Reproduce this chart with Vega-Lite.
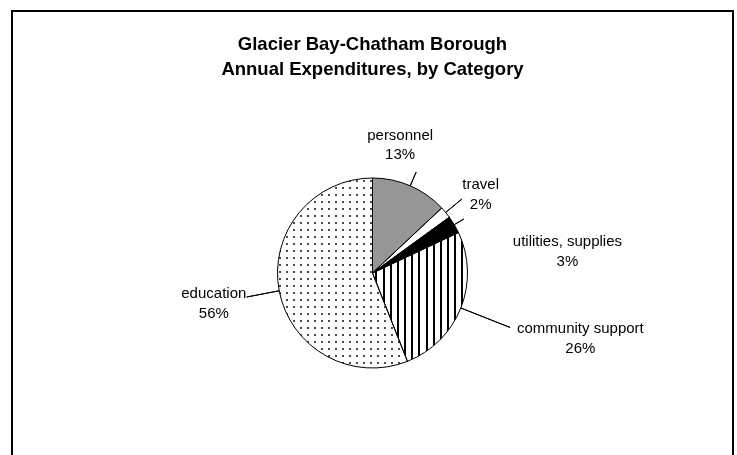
{
  "$schema": "https://vega.github.io/schema/vega-lite/v6.json",
  "width": 721,
  "height": 524,
  "autosize": {"type": "none"},
  "padding": {"left": 12, "top": 11, "right": 4, "bottom": 0},
  "background": "white",
  "view": {"stroke": "#000000", "strokeWidth": 2, "fill": "white"},
  "config": {
    "view": {"stroke": "#000000", "strokeWidth": 2},
    "font": "Liberation Sans"
  },
  "title": {
    "text": ["Glacier Bay-Chatham Borough", "Annual Expenditures, by Category"],
    "font": "Liberation Sans",
    "fontSize": 18.5,
    "fontWeight": "bold",
    "color": "#000000",
    "anchor": "middle",
    "frame": "group",
    "baseline": "bottom",
    "lineHeight": 25,
    "offset": -86
  },
  "data": {
    "values": [
      {"cat": "personnel", "share": 0.13, "idx": 1},
      {"cat": "travel", "share": 0.02, "idx": 2},
      {"cat": "utilities, supplies", "share": 0.03, "idx": 3},
      {"cat": "community support", "share": 0.26, "idx": 4},
      {"cat": "education", "share": 0.56, "idx": 5}
    ]
  },
  "transform": [
    {"stack": "share", "groupby": [], "sort": [{"field": "idx", "order": "ascending"}], "as": ["t0", "t1"]}
  ],
  "layer": [
    {
      "transform": [{"filter": "datum.idx <= 3"}],
      "mark": {"type": "arc", "outerRadius": 95},
      "encoding": {
        "theta": {"field": "t0", "type": "quantitative", "scale": {"domain": [0, 1]}},
        "theta2": {"field": "t1"},
        "fill": {"field": "cat", "type": "nominal", "scale": {"domain": ["personnel", "travel", "utilities, supplies"], "range": ["#969696", "#ffffff", "#000000"]}, "legend": null}
      }
    },
    {
      "transform": [{"filter": "datum.idx == 4"}],
      "mark": {"type": "arc", "outerRadius": 95, "fill": {"gradient": "linear", "x1": 0, "y1": 0, "x2": 1, "y2": 0, "stops": [
        {"offset": 0, "color": "#ffffff"},
        {"offset": 0.0315, "color": "#ffffff"}, {"offset": 0.0315, "color": "#000000"}, {"offset": 0.0525, "color": "#000000"}, {"offset": 0.0525, "color": "#ffffff"},
        {"offset": 0.1068, "color": "#ffffff"}, {"offset": 0.1068, "color": "#000000"}, {"offset": 0.1278, "color": "#000000"}, {"offset": 0.1278, "color": "#ffffff"},
        {"offset": 0.1821, "color": "#ffffff"}, {"offset": 0.1821, "color": "#000000"}, {"offset": 0.2031, "color": "#000000"}, {"offset": 0.2031, "color": "#ffffff"},
        {"offset": 0.2574, "color": "#ffffff"}, {"offset": 0.2574, "color": "#000000"}, {"offset": 0.2784, "color": "#000000"}, {"offset": 0.2784, "color": "#ffffff"},
        {"offset": 0.3327, "color": "#ffffff"}, {"offset": 0.3327, "color": "#000000"}, {"offset": 0.3537, "color": "#000000"}, {"offset": 0.3537, "color": "#ffffff"},
        {"offset": 0.4080, "color": "#ffffff"}, {"offset": 0.4080, "color": "#000000"}, {"offset": 0.4290, "color": "#000000"}, {"offset": 0.4290, "color": "#ffffff"},
        {"offset": 0.4833, "color": "#ffffff"}, {"offset": 0.4833, "color": "#000000"}, {"offset": 0.5043, "color": "#000000"}, {"offset": 0.5043, "color": "#ffffff"},
        {"offset": 0.5586, "color": "#ffffff"}, {"offset": 0.5586, "color": "#000000"}, {"offset": 0.5796, "color": "#000000"}, {"offset": 0.5796, "color": "#ffffff"},
        {"offset": 0.6339, "color": "#ffffff"}, {"offset": 0.6339, "color": "#000000"}, {"offset": 0.6549, "color": "#000000"}, {"offset": 0.6549, "color": "#ffffff"},
        {"offset": 0.7092, "color": "#ffffff"}, {"offset": 0.7092, "color": "#000000"}, {"offset": 0.7302, "color": "#000000"}, {"offset": 0.7302, "color": "#ffffff"},
        {"offset": 0.7845, "color": "#ffffff"}, {"offset": 0.7845, "color": "#000000"}, {"offset": 0.8055, "color": "#000000"}, {"offset": 0.8055, "color": "#ffffff"},
        {"offset": 0.8598, "color": "#ffffff"}, {"offset": 0.8598, "color": "#000000"}, {"offset": 0.8808, "color": "#000000"}, {"offset": 0.8808, "color": "#ffffff"},
        {"offset": 0.9351, "color": "#ffffff"}, {"offset": 0.9351, "color": "#000000"}, {"offset": 0.9561, "color": "#000000"}, {"offset": 0.9561, "color": "#ffffff"},
        {"offset": 1, "color": "#ffffff"}
      ]}},
      "encoding": {
        "theta": {"field": "t0", "type": "quantitative", "scale": {"domain": [0, 1]}},
        "theta2": {"field": "t1"}
      }
    },
    {
      "transform": [{"filter": "datum.idx == 5"}],
      "mark": {"type": "arc", "outerRadius": 95, "fill": {"gradient": "linear", "x1": 0, "y1": 0, "x2": 1, "y2": 0, "stops": [
        {"offset": 0, "color": "#ffffff"},
        {"offset": 0.01154, "color": "#ffffff"}, {"offset": 0.01154, "color": "#4a4a4a"}, {"offset": 0.02692, "color": "#4a4a4a"}, {"offset": 0.02692, "color": "#ffffff"},
        {"offset": 0.06538, "color": "#ffffff"}, {"offset": 0.06538, "color": "#4a4a4a"}, {"offset": 0.08077, "color": "#4a4a4a"}, {"offset": 0.08077, "color": "#ffffff"},
        {"offset": 0.11923, "color": "#ffffff"}, {"offset": 0.11923, "color": "#4a4a4a"}, {"offset": 0.13462, "color": "#4a4a4a"}, {"offset": 0.13462, "color": "#ffffff"},
        {"offset": 0.17308, "color": "#ffffff"}, {"offset": 0.17308, "color": "#4a4a4a"}, {"offset": 0.18846, "color": "#4a4a4a"}, {"offset": 0.18846, "color": "#ffffff"},
        {"offset": 0.22692, "color": "#ffffff"}, {"offset": 0.22692, "color": "#4a4a4a"}, {"offset": 0.24231, "color": "#4a4a4a"}, {"offset": 0.24231, "color": "#ffffff"},
        {"offset": 0.28077, "color": "#ffffff"}, {"offset": 0.28077, "color": "#4a4a4a"}, {"offset": 0.29615, "color": "#4a4a4a"}, {"offset": 0.29615, "color": "#ffffff"},
        {"offset": 0.33462, "color": "#ffffff"}, {"offset": 0.33462, "color": "#4a4a4a"}, {"offset": 0.35, "color": "#4a4a4a"}, {"offset": 0.35, "color": "#ffffff"},
        {"offset": 0.38846, "color": "#ffffff"}, {"offset": 0.38846, "color": "#4a4a4a"}, {"offset": 0.40385, "color": "#4a4a4a"}, {"offset": 0.40385, "color": "#ffffff"},
        {"offset": 0.44231, "color": "#ffffff"}, {"offset": 0.44231, "color": "#4a4a4a"}, {"offset": 0.45769, "color": "#4a4a4a"}, {"offset": 0.45769, "color": "#ffffff"},
        {"offset": 0.49615, "color": "#ffffff"}, {"offset": 0.49615, "color": "#4a4a4a"}, {"offset": 0.51154, "color": "#4a4a4a"}, {"offset": 0.51154, "color": "#ffffff"},
        {"offset": 0.55, "color": "#ffffff"}, {"offset": 0.55, "color": "#4a4a4a"}, {"offset": 0.56538, "color": "#4a4a4a"}, {"offset": 0.56538, "color": "#ffffff"},
        {"offset": 0.60385, "color": "#ffffff"}, {"offset": 0.60385, "color": "#4a4a4a"}, {"offset": 0.61923, "color": "#4a4a4a"}, {"offset": 0.61923, "color": "#ffffff"},
        {"offset": 0.65769, "color": "#ffffff"}, {"offset": 0.65769, "color": "#4a4a4a"}, {"offset": 0.67308, "color": "#4a4a4a"}, {"offset": 0.67308, "color": "#ffffff"},
        {"offset": 0.71154, "color": "#ffffff"}, {"offset": 0.71154, "color": "#4a4a4a"}, {"offset": 0.72692, "color": "#4a4a4a"}, {"offset": 0.72692, "color": "#ffffff"},
        {"offset": 0.76538, "color": "#ffffff"}, {"offset": 0.76538, "color": "#4a4a4a"}, {"offset": 0.78077, "color": "#4a4a4a"}, {"offset": 0.78077, "color": "#ffffff"},
        {"offset": 0.81923, "color": "#ffffff"}, {"offset": 0.81923, "color": "#4a4a4a"}, {"offset": 0.83462, "color": "#4a4a4a"}, {"offset": 0.83462, "color": "#ffffff"},
        {"offset": 0.87308, "color": "#ffffff"}, {"offset": 0.87308, "color": "#4a4a4a"}, {"offset": 0.88846, "color": "#4a4a4a"}, {"offset": 0.88846, "color": "#ffffff"},
        {"offset": 0.92692, "color": "#ffffff"}, {"offset": 0.92692, "color": "#4a4a4a"}, {"offset": 0.94231, "color": "#4a4a4a"}, {"offset": 0.94231, "color": "#ffffff"},
        {"offset": 0.98077, "color": "#ffffff"}, {"offset": 0.98077, "color": "#4a4a4a"}, {"offset": 0.99615, "color": "#4a4a4a"}, {"offset": 0.99615, "color": "#ffffff"},
        {"offset": 1, "color": "#ffffff"}
      ]}},
      "encoding": {
        "theta": {"field": "t0", "type": "quantitative", "scale": {"domain": [0, 1]}},
        "theta2": {"field": "t1"}
      }
    },
    {
      "transform": [{"filter": "datum.idx == 5"}],
      "mark": {"type": "arc", "outerRadius": 95, "blend": "lighten", "fill": {"gradient": "linear", "x1": 0, "y1": 0, "x2": 0, "y2": 1, "stops": [
        {"offset": 0, "color": "#ffffff"},
        {"offset": 0.01053, "color": "#ffffff"}, {"offset": 0.01053, "color": "#4a4a4a"}, {"offset": 0.02105, "color": "#4a4a4a"}, {"offset": 0.02105, "color": "#ffffff"},
        {"offset": 0.04737, "color": "#ffffff"}, {"offset": 0.04737, "color": "#4a4a4a"}, {"offset": 0.05789, "color": "#4a4a4a"}, {"offset": 0.05789, "color": "#ffffff"},
        {"offset": 0.08421, "color": "#ffffff"}, {"offset": 0.08421, "color": "#4a4a4a"}, {"offset": 0.09474, "color": "#4a4a4a"}, {"offset": 0.09474, "color": "#ffffff"},
        {"offset": 0.12105, "color": "#ffffff"}, {"offset": 0.12105, "color": "#4a4a4a"}, {"offset": 0.13158, "color": "#4a4a4a"}, {"offset": 0.13158, "color": "#ffffff"},
        {"offset": 0.15789, "color": "#ffffff"}, {"offset": 0.15789, "color": "#4a4a4a"}, {"offset": 0.16842, "color": "#4a4a4a"}, {"offset": 0.16842, "color": "#ffffff"},
        {"offset": 0.19474, "color": "#ffffff"}, {"offset": 0.19474, "color": "#4a4a4a"}, {"offset": 0.20526, "color": "#4a4a4a"}, {"offset": 0.20526, "color": "#ffffff"},
        {"offset": 0.23158, "color": "#ffffff"}, {"offset": 0.23158, "color": "#4a4a4a"}, {"offset": 0.24211, "color": "#4a4a4a"}, {"offset": 0.24211, "color": "#ffffff"},
        {"offset": 0.26842, "color": "#ffffff"}, {"offset": 0.26842, "color": "#4a4a4a"}, {"offset": 0.27895, "color": "#4a4a4a"}, {"offset": 0.27895, "color": "#ffffff"},
        {"offset": 0.30526, "color": "#ffffff"}, {"offset": 0.30526, "color": "#4a4a4a"}, {"offset": 0.31579, "color": "#4a4a4a"}, {"offset": 0.31579, "color": "#ffffff"},
        {"offset": 0.34211, "color": "#ffffff"}, {"offset": 0.34211, "color": "#4a4a4a"}, {"offset": 0.35263, "color": "#4a4a4a"}, {"offset": 0.35263, "color": "#ffffff"},
        {"offset": 0.37895, "color": "#ffffff"}, {"offset": 0.37895, "color": "#4a4a4a"}, {"offset": 0.38947, "color": "#4a4a4a"}, {"offset": 0.38947, "color": "#ffffff"},
        {"offset": 0.41579, "color": "#ffffff"}, {"offset": 0.41579, "color": "#4a4a4a"}, {"offset": 0.42632, "color": "#4a4a4a"}, {"offset": 0.42632, "color": "#ffffff"},
        {"offset": 0.45263, "color": "#ffffff"}, {"offset": 0.45263, "color": "#4a4a4a"}, {"offset": 0.46316, "color": "#4a4a4a"}, {"offset": 0.46316, "color": "#ffffff"},
        {"offset": 0.48947, "color": "#ffffff"}, {"offset": 0.48947, "color": "#4a4a4a"}, {"offset": 0.5, "color": "#4a4a4a"}, {"offset": 0.5, "color": "#ffffff"},
        {"offset": 0.52632, "color": "#ffffff"}, {"offset": 0.52632, "color": "#4a4a4a"}, {"offset": 0.53684, "color": "#4a4a4a"}, {"offset": 0.53684, "color": "#ffffff"},
        {"offset": 0.56316, "color": "#ffffff"}, {"offset": 0.56316, "color": "#4a4a4a"}, {"offset": 0.57368, "color": "#4a4a4a"}, {"offset": 0.57368, "color": "#ffffff"},
        {"offset": 0.6, "color": "#ffffff"}, {"offset": 0.6, "color": "#4a4a4a"}, {"offset": 0.61053, "color": "#4a4a4a"}, {"offset": 0.61053, "color": "#ffffff"},
        {"offset": 0.63684, "color": "#ffffff"}, {"offset": 0.63684, "color": "#4a4a4a"}, {"offset": 0.64737, "color": "#4a4a4a"}, {"offset": 0.64737, "color": "#ffffff"},
        {"offset": 0.67368, "color": "#ffffff"}, {"offset": 0.67368, "color": "#4a4a4a"}, {"offset": 0.68421, "color": "#4a4a4a"}, {"offset": 0.68421, "color": "#ffffff"},
        {"offset": 0.71053, "color": "#ffffff"}, {"offset": 0.71053, "color": "#4a4a4a"}, {"offset": 0.72105, "color": "#4a4a4a"}, {"offset": 0.72105, "color": "#ffffff"},
        {"offset": 0.74737, "color": "#ffffff"}, {"offset": 0.74737, "color": "#4a4a4a"}, {"offset": 0.75789, "color": "#4a4a4a"}, {"offset": 0.75789, "color": "#ffffff"},
        {"offset": 0.78421, "color": "#ffffff"}, {"offset": 0.78421, "color": "#4a4a4a"}, {"offset": 0.79474, "color": "#4a4a4a"}, {"offset": 0.79474, "color": "#ffffff"},
        {"offset": 0.82105, "color": "#ffffff"}, {"offset": 0.82105, "color": "#4a4a4a"}, {"offset": 0.83158, "color": "#4a4a4a"}, {"offset": 0.83158, "color": "#ffffff"},
        {"offset": 0.85789, "color": "#ffffff"}, {"offset": 0.85789, "color": "#4a4a4a"}, {"offset": 0.86842, "color": "#4a4a4a"}, {"offset": 0.86842, "color": "#ffffff"},
        {"offset": 0.89474, "color": "#ffffff"}, {"offset": 0.89474, "color": "#4a4a4a"}, {"offset": 0.90526, "color": "#4a4a4a"}, {"offset": 0.90526, "color": "#ffffff"},
        {"offset": 0.93158, "color": "#ffffff"}, {"offset": 0.93158, "color": "#4a4a4a"}, {"offset": 0.94211, "color": "#4a4a4a"}, {"offset": 0.94211, "color": "#ffffff"},
        {"offset": 0.96842, "color": "#ffffff"}, {"offset": 0.96842, "color": "#4a4a4a"}, {"offset": 0.97895, "color": "#4a4a4a"}, {"offset": 0.97895, "color": "#ffffff"},
        {"offset": 1, "color": "#ffffff"}
      ]}},
      "encoding": {
        "theta": {"field": "t0", "type": "quantitative", "scale": {"domain": [0, 1]}},
        "theta2": {"field": "t1"}
      }
    },
    {
      "mark": {"type": "arc", "outerRadius": 95, "filled": false, "stroke": "#000000", "strokeWidth": 1},
      "encoding": {
        "theta": {"field": "t0", "type": "quantitative", "scale": {"domain": [0, 1]}},
        "theta2": {"field": "t1"}
      }
    },
    {
      "transform": [
        {"fold": ["t0", "t1"], "as": ["edge", "ang"]},
        {"aggregate": [{"op": "mean", "field": "ang", "as": "mid"}], "groupby": ["cat", "share"]}
      ],
      "layer": [
        {
          "transform": [{"filter": "datum.cat === 'personnel'"}],
          "mark": {"type": "arc", "innerRadius": 95, "outerRadius": 110, "filled": false, "stroke": "#000000", "strokeWidth": 1},
          "encoding": {"theta": {"field": "mid", "type": "quantitative", "scale": {"domain": [0, 1]}}, "theta2": {"field": "mid"}}
        },
        {
          "transform": [{"filter": "datum.cat === 'travel'"}],
          "mark": {"type": "arc", "innerRadius": 95, "outerRadius": 116, "filled": false, "stroke": "#000000", "strokeWidth": 1},
          "encoding": {"theta": {"field": "mid", "type": "quantitative", "scale": {"domain": [0, 1]}}, "theta2": {"field": "mid"}}
        },
        {
          "transform": [{"filter": "datum.cat === 'utilities, supplies'"}],
          "mark": {"type": "arc", "innerRadius": 95, "outerRadius": 106, "filled": false, "stroke": "#000000", "strokeWidth": 1},
          "encoding": {"theta": {"field": "mid", "type": "quantitative", "scale": {"domain": [0, 1]}}, "theta2": {"field": "mid"}}
        },
        {
          "transform": [{"filter": "datum.cat === 'community support'"}],
          "mark": {"type": "arc", "innerRadius": 95, "outerRadius": 148, "filled": false, "stroke": "#000000", "strokeWidth": 1},
          "encoding": {"theta": {"field": "mid", "type": "quantitative", "scale": {"domain": [0, 1]}}, "theta2": {"field": "mid"}}
        },
        {
          "transform": [{"filter": "datum.cat === 'education'"}],
          "mark": {"type": "arc", "innerRadius": 95, "outerRadius": 128, "filled": false, "stroke": "#000000", "strokeWidth": 1},
          "encoding": {"theta": {"field": "mid", "type": "quantitative", "scale": {"domain": [0, 1]}}, "theta2": {"field": "mid"}}
        },
        {
          "transform": [{"filter": "datum.cat === 'personnel'"}],
          "mark": {"type": "text", "radius": 130, "dx": -24, "dy": -19, "text": {"expr": "[datum.cat, format(datum.share, '.0%')]"}, "font": "Liberation Sans", "fontSize": 15, "lineHeight": 19, "align": "center", "baseline": "middle", "color": "#000000"},
          "encoding": {"theta": {"field": "mid", "type": "quantitative", "scale": {"domain": [0, 1]}}}
        },
        {
          "transform": [{"filter": "datum.cat === 'travel'"}],
          "mark": {"type": "text", "radius": 130, "dx": 8, "dy": -6, "text": {"expr": "[datum.cat, format(datum.share, '.0%')]"}, "font": "Liberation Sans", "fontSize": 15, "lineHeight": 20, "align": "center", "baseline": "middle", "color": "#000000"},
          "encoding": {"theta": {"field": "mid", "type": "quantitative", "scale": {"domain": [0, 1]}}}
        },
        {
          "transform": [{"filter": "datum.cat === 'utilities, supplies'"}],
          "mark": {"type": "text", "radius": 130, "dx": 83, "dy": 34, "text": {"expr": "[datum.cat, format(datum.share, '.0%')]"}, "font": "Liberation Sans", "fontSize": 15, "lineHeight": 20, "align": "center", "baseline": "middle", "color": "#000000"},
          "encoding": {"theta": {"field": "mid", "type": "quantitative", "scale": {"domain": [0, 1]}}}
        },
        {
          "transform": [{"filter": "datum.cat === 'community support'"}],
          "mark": {"type": "text", "radius": 130, "dx": 87, "dy": 7, "text": {"expr": "[datum.cat, format(datum.share, '.0%')]"}, "font": "Liberation Sans", "fontSize": 15, "lineHeight": 20, "align": "center", "baseline": "middle", "color": "#000000"},
          "encoding": {"theta": {"field": "mid", "type": "quantitative", "scale": {"domain": [0, 1]}}}
        },
        {
          "transform": [{"filter": "datum.cat === 'education'"}],
          "mark": {"type": "text", "radius": 130, "dx": -31, "dy": -4, "text": {"expr": "[datum.cat, format(datum.share, '.0%')]"}, "font": "Liberation Sans", "fontSize": 15, "lineHeight": 20, "align": "center", "baseline": "middle", "color": "#000000"},
          "encoding": {"theta": {"field": "mid", "type": "quantitative", "scale": {"domain": [0, 1]}}}
        }
      ]
    }
  ]
}
